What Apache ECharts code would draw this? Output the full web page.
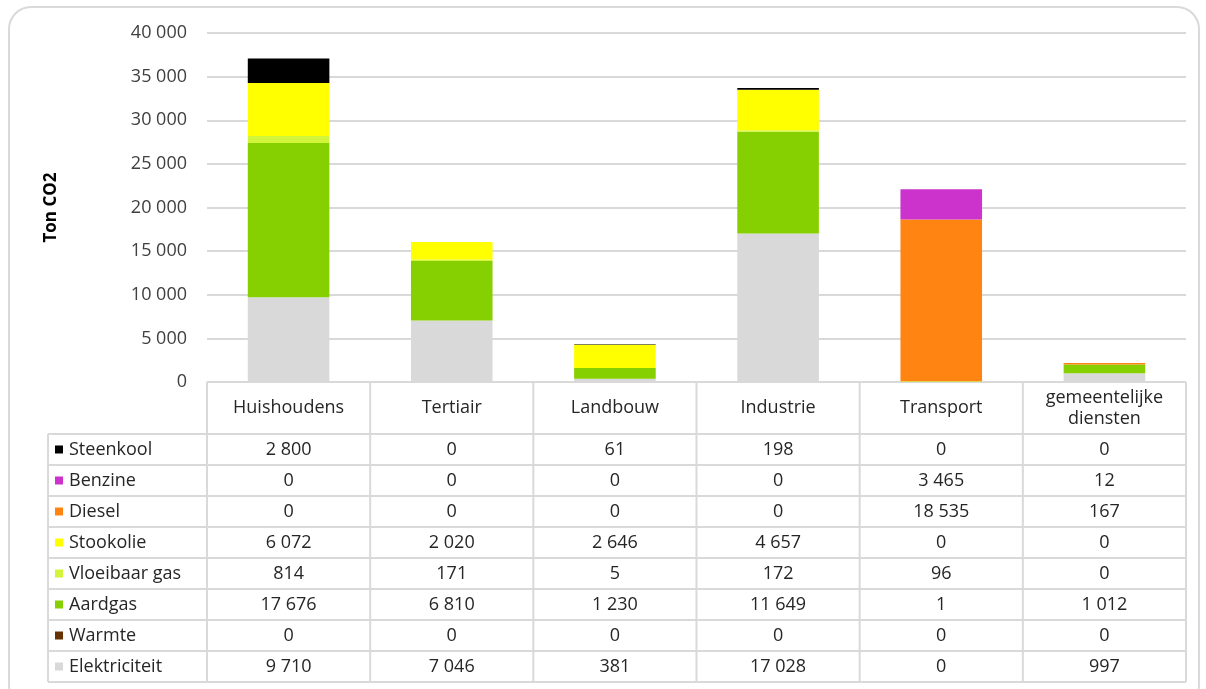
<!DOCTYPE html>
<html>
<head>
<meta charset="utf-8">
<script src="https://cdn.jsdelivr.net/npm/echarts@6/dist/echarts.min.js"></script>
<style>
  html, body { margin: 0; padding: 0; background: #fff; }
  #chart { width: 1206px; height: 689px; }
</style>
</head>
<body>
<div id="chart"></div>
<script>
// categorieën (kolommen)
const categories = ['Huishoudens', 'Tertiair', 'Landbouw', 'Industrie', 'Transport', 'gemeentelijke\ndiensten'];

// reeksen, volgorde van de tabel (boven naar onder)
const steenkool    = [2800, 0, 61, 198, 0, 0];
const benzine      = [0, 0, 0, 0, 3465, 12];
const diesel       = [0, 0, 0, 0, 18535, 167];
const stookolie    = [6072, 2020, 2646, 4657, 0, 0];
const vloeibaarGas = [814, 171, 5, 172, 96, 0];
const aardgas      = [17676, 6810, 1230, 11649, 1, 1012];
const warmte       = [0, 0, 0, 0, 0, 0];
const elektriciteit = [9710, 7046, 381, 17028, 0, 997];

const yTicks = [0, 5000, 10000, 15000, 20000, 25000, 30000, 35000, 40000];

const tableRows = [
  { name: 'Steenkool', data: steenkool, color: '#000000' },
  { name: 'Benzine', data: benzine, color: '#cc33cc' },
  { name: 'Diesel', data: diesel, color: '#ff8411' },
  { name: 'Stookolie', data: stookolie, color: '#ffff00' },
  { name: 'Vloeibaar gas', data: vloeibaarGas, color: '#d2f53c' },
  { name: 'Aardgas', data: aardgas, color: '#86cf00' },
  { name: 'Warmte', data: warmte, color: '#663300' },
  { name: 'Elektriciteit', data: elektriciteit, color: '#d9d9d9' }
];

const FONT = '"Open Sans", Lato, sans-serif';

function fmt(v) {
  return String(v).replace(/\B(?=(\d{3})+(?!\d))/g, ' ');
}

// layout
const gridLeft = 207, gridRight = 1186, gridTop = 33, gridBottom = 382;
const headerH = 52, rowH = 31, labelLeft = 48;
const colW = (gridRight - gridLeft) / categories.length;
const lineColor = '#d9d9d9';

const chart = echarts.init(document.getElementById('chart'));

// tabel tekenen
const graphics = [];
// afgeronde rand rond het geheel
graphics.push({
  type: 'rect', shape: { x: 9, y: 7, width: 1190, height: 700, r: 22 },
  style: { fill: 'none', stroke: '#d9d9d9', lineWidth: 2 }, silent: true
});
const tableTop = gridBottom;
const bodyTop = tableTop + headerH;
const tableBottom = bodyTop + rowH * tableRows.length;
// horizontale lijnen
graphics.push({ type: 'line', shape: { x1: gridLeft, y1: tableTop, x2: gridRight, y2: tableTop }, style: { stroke: lineColor, lineWidth: 2 } });
for (let i = 0; i <= tableRows.length; i++) {
  const y = bodyTop + i * rowH;
  graphics.push({ type: 'line', shape: { x1: labelLeft, y1: y, x2: gridRight, y2: y }, style: { stroke: lineColor, lineWidth: 2 } });
}
// verticale lijnen
graphics.push({ type: 'line', shape: { x1: labelLeft, y1: bodyTop, x2: labelLeft, y2: tableBottom }, style: { stroke: lineColor, lineWidth: 2 } });
for (let c = 0; c <= categories.length; c++) {
  const x = gridLeft + c * colW;
  graphics.push({ type: 'line', shape: { x1: x, y1: tableTop, x2: x, y2: tableBottom }, style: { stroke: lineColor, lineWidth: 2 } });
}
// kopteksten
categories.forEach((cat, c) => {
  graphics.push({
    type: 'text', x: gridLeft + (c + 0.5) * colW, y: tableTop + headerH / 2,
    style: { text: cat, fill: '#262626', font: '18px ' + FONT, align: 'center', verticalAlign: 'middle', lineHeight: 21 }
  });
});
// rijen
tableRows.forEach((row, r) => {
  const cy = bodyTop + (r + 0.5) * rowH;
  graphics.push({ type: 'rect', shape: { x: 55, y: cy - 4, width: 8, height: 8 }, style: { fill: row.color } });
  graphics.push({
    type: 'text', x: 69, y: cy,
    style: { text: row.name, fill: '#262626', font: '18px ' + FONT, align: 'left', verticalAlign: 'middle' }
  });
  row.data.forEach((v, c) => {
    graphics.push({
      type: 'text', x: gridLeft + (c + 0.5) * colW, y: cy,
      style: { text: fmt(v), fill: '#262626', font: '18px ' + FONT, align: 'center', verticalAlign: 'middle' }
    });
  });
});

// gestapelde reeksen, van onder naar boven
const series = tableRows.slice().reverse().map(row => ({
  type: 'bar',
  name: row.name,
  stack: 'totaal',
  barWidth: '50%',
  itemStyle: { color: row.color },
  data: row.data
}));

chart.setOption({
  animation: false,
  grid: { left: gridLeft, right: 1206 - gridRight, top: gridTop, bottom: 689 - gridBottom },
  xAxis: {
    type: 'category',
    data: categories,
    axisLine: { show: false },
    axisTick: { show: false },
    axisLabel: { show: false }
  },
  yAxis: {
    type: 'value',
    min: yTicks[0],
    max: yTicks[yTicks.length - 1],
    interval: yTicks[1] - yTicks[0],
    name: 'Ton CO2',
    nameLocation: 'middle',
    nameRotate: 90,
    nameGap: 147,
    nameTextStyle: { fontFamily: FONT, fontSize: 17, fontWeight: 'bold', color: '#000' },
    axisLine: { show: false },
    axisTick: { show: false },
    axisLabel: { fontFamily: FONT, fontSize: 18, color: '#404040', margin: 20, formatter: v => fmt(v) },
    splitLine: { lineStyle: { color: lineColor, width: 2 } }
  },
  series: series,
  graphic: graphics
});
</script>
</body>
</html>
